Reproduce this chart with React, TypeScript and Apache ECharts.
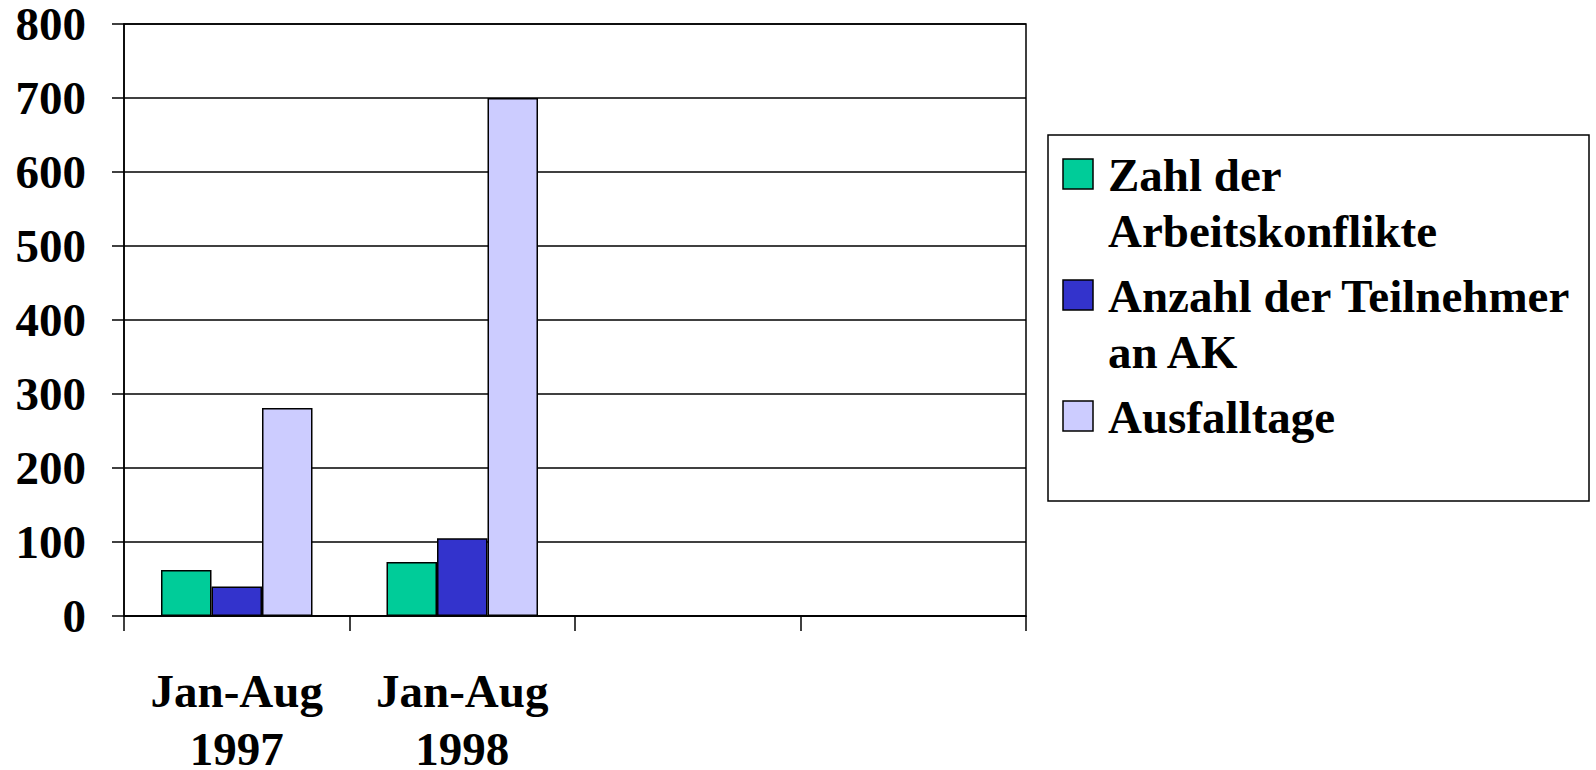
import React, { useEffect, useRef } from "react";
import * as echarts from "echarts";

const categories = ["Jan-Aug\n1997", "Jan-Aug\n1998", "", ""];
const seriesNames = ["Zahl der\nArbeitskonflikte", "Anzahl der Teilnehmer\nan AK", "Ausfalltage"];
const konflikte = [62, 73, null, null];
const teilnehmer = [40, 105, null, null];
const ausfalltage = [281, 700, null, null];
const colors = ["#00CC99", "#3333CC", "#CCCCFF"];
const yMin = 0;
const yMax = 800;
const yInterval = 100;

const FONT = "'Liberation Serif', 'Times New Roman', serif";

export default function App() {
  const ref = useRef<HTMLDivElement>(null);
  useEffect(() => {
    if (!ref.current) return;
    const chart = echarts.init(ref.current, null, { renderer: "svg" });
    const seriesData = [konflikte, teilnehmer, ausfalltage];

    const legendEls: any[] = [
      {
        type: "rect",
        shape: { x: 1048, y: 135, width: 541, height: 366 },
        style: { fill: "#fff", stroke: "#000", lineWidth: 1.5 },
        z: 10,
      },
    ];
    let y = 147;
    const LH = 56;
    seriesNames.forEach((name, i) => {
      const lines = name.split("\n").length;
      legendEls.push({
        type: "rect",
        shape: { x: 1063, y: y + LH / 2 - 16, width: 30, height: 30 },
        style: { fill: colors[i], stroke: "#000", lineWidth: 1.5 },
        z: 11,
      });
      legendEls.push({
        type: "text",
        x: 1108,
        y: y,
        style: {
          text: name,
          font: `bold 47px ${FONT}`,
          lineHeight: LH,
          fill: "#000",
          verticalAlign: "top",
          align: "left",
        },
        z: 11,
      });
      y += lines * LH + 9;
    });

    chart.setOption({
      animation: false,
      backgroundColor: "#fff",
      grid: {
        left: 124,
        right: 570,
        top: 24,
        bottom: 154,
        outerBoundsMode: "none",
        containLabel: false,
        show: true,
        borderColor: "#000",
        borderWidth: 1.5,
        backgroundColor: "transparent",
      },
      xAxis: {
        type: "category",
        data: categories,
        boundaryGap: true,
        axisLine: { show: true, lineStyle: { color: "#000", width: 1.5 } },
        axisTick: { show: true, length: 15, alignWithLabel: false, lineStyle: { color: "#000", width: 1.5 } },
        axisLabel: {
          interval: 0,
          margin: 46,
          color: "#000",
          fontFamily: FONT,
          fontWeight: "bold",
          fontSize: 47,
          lineHeight: 58,
        },
        splitLine: { show: false },
      },
      yAxis: {
        type: "value",
        min: yMin,
        max: yMax,
        interval: yInterval,
        axisLine: { show: true, lineStyle: { color: "#000", width: 1.5 } },
        axisTick: { show: true, length: 12, lineStyle: { color: "#000", width: 1.5 } },
        axisLabel: {
          margin: 38,
          color: "#000",
          fontFamily: FONT,
          fontWeight: "bold",
          fontSize: 47,
        },
        splitLine: { show: true, lineStyle: { color: "#000", width: 1.5 } },
      },
      series: seriesNames.map((name, i) => ({
        type: "bar",
        name,
        data: seriesData[i],
        barWidth: 50.5,
        barGap: "0%",
        itemStyle: { color: colors[i], borderColor: "#000", borderWidth: 1.5 },
      })),
      graphic: legendEls,
    });
    return () => chart.dispose();
  }, []);
  return (
    <div
      ref={ref}
      style={{ position: "absolute", left: 0, top: 0, width: 1596, height: 770 }}
    />
  );
}
